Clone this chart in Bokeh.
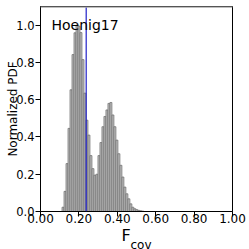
import numpy as np
from bokeh.plotting import figure
from bokeh.models import Span, Label, FixedTicker, Range1d, Title
from bokeh.embed import file_html
from bokeh.resources import INLINE

# histogram data (normalized PDF)
bin_start = 0.112
bin_width = 0.0104
pdf_values = [0.023, 0.108, 0.257, 0.446, 0.653, 0.842, 0.959, 1.0, 0.995, 0.96,
              0.815, 0.635, 0.49, 0.41, 0.30, 0.23, 0.195, 0.20, 0.30, 0.37,
              0.455, 0.51, 0.545, 0.58, 0.585, 0.518, 0.455, 0.383, 0.31, 0.248,
              0.185, 0.131, 0.095, 0.068, 0.041, 0.023, 0.015, 0.010, 0.006, 0.004,
              0.002]
obs_value = 0.238
x_ticks = [0.0, 0.2, 0.4, 0.6, 0.8, 1.0]
x_tick_labels = ["0.00", "0.20", "0.40", "0.60", "0.80", "1.00"]
y_ticks = [0.0, 0.2, 0.4, 0.6, 0.8, 1.0]
y_tick_labels = ["0.0", "0.2", "0.4", "0.6", "0.8", "1.0"]
title_text = "Hoenig17"
ylabel_text = "Normalized PDF"
xlabel_main = "F"
xlabel_sub = "cov"

n = len(pdf_values)
lefts = bin_start + bin_width * np.arange(n)
rights = lefts + bin_width

FONT = "DejaVu Sans"

p = figure(width=249, height=249, output_backend="svg", toolbar_location=None,
           x_range=Range1d(0, 1.0), y_range=Range1d(0, 1.1),
           min_border_left=40, min_border_right=17, min_border_top=6,
           min_border_bottom=38)
p.background_fill_color = "white"
p.border_fill_color = "white"
p.xgrid.visible = False
p.ygrid.visible = False
p.outline_line_color = "black"
p.outline_line_width = 1

p.quad(left=lefts, right=rights, top=pdf_values, bottom=0,
       fill_color="#bdbdbd", line_color="#6a6a6a", line_width=0.7)

p.add_layout(Span(location=obs_value, dimension="height", line_color="#2020c8", line_width=1.2))
p.add_layout(Span(location=1.1, dimension="width", line_color="#aaaaaa", line_width=2.5))

for ax, ticks, labels in ((p.xaxis[0], x_ticks, x_tick_labels), (p.yaxis[0], y_ticks, y_tick_labels)):
    ax.ticker = FixedTicker(ticks=ticks)
    ax.major_label_overrides = {t: l for t, l in zip(ticks, labels)}
    ax.minor_tick_line_color = None
    ax.major_tick_out = 5
    ax.major_tick_in = 0
    ax.major_label_text_font = FONT
    ax.major_label_text_font_size = "11.5px"
    ax.major_label_text_color = "black"
    ax.axis_line_color = "black"
    ax.major_tick_line_color = "black"
p.xaxis.major_label_text_font_size = "12px"
p.xaxis.major_label_standoff = -3
p.yaxis.major_label_standoff = 1

p.yaxis.axis_label = ylabel_text
p.yaxis.axis_label_text_font = FONT
p.yaxis.axis_label_text_font_size = "12px"
p.yaxis.axis_label_text_font_style = "normal"
p.yaxis.axis_label_text_color = "black"
p.yaxis.axis_label_standoff = -7

t_main = Title(text=xlabel_main, align="left", offset=81, standoff=0, vertical_align="top",
               text_font=FONT, text_font_size="16px", text_font_style="normal", text_color="black")
p.add_layout(t_main, "below")
t_sub = Title(text=xlabel_sub, align="left", offset=90, standoff=-18, vertical_align="top",
              text_font=FONT, text_font_size="12px", text_font_style="normal", text_color="black")
p.add_layout(t_sub, "below")

p.add_layout(Label(x=0.057, y=1.003, text=title_text, text_font=FONT,
                   text_font_size="14px", text_color="black", text_baseline="alphabetic"))

open("out.html", "w").write(file_html(p, INLINE))
